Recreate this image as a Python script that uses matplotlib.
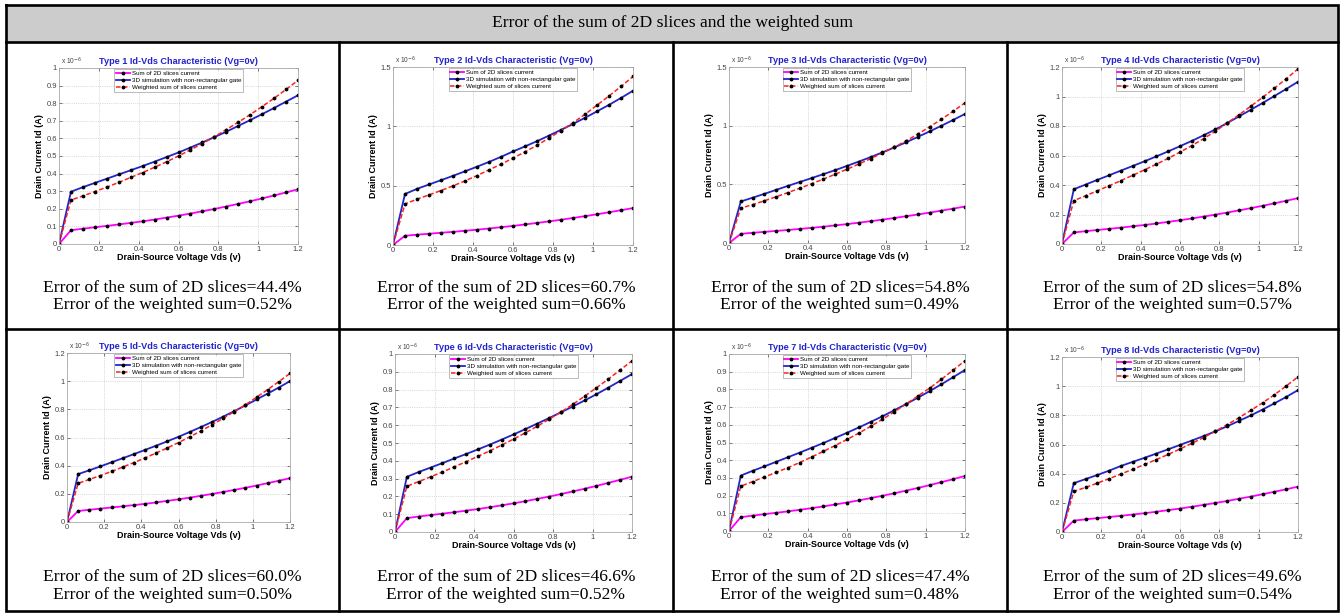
# Id-Vds characteristics of 8 gate types, arranged as a 2x4 table

import matplotlib.pyplot as plt

plt.rcParams['font.family'] = ['Liberation Sans', 'DejaVu Sans']

W, H = 1344, 613

# drain-source voltage (V)
vds = [0.0, 0.06, 0.12, 0.18, 0.24, 0.30, 0.36, 0.42, 0.48, 0.54, 0.60,
       0.66, 0.72, 0.78, 0.84, 0.90, 0.96, 1.02, 1.08, 1.14, 1.20]

# drain currents, in units of 1e-6 A
sum_2d = [0, 0.078, 0.087, 0.095, 0.103, 0.111, 0.120, 0.129, 0.139, 0.150, 0.161,
          0.173, 0.186, 0.199, 0.213, 0.228, 0.243, 0.259, 0.276, 0.293, 0.311]

sim_3d = [
    [0, 0.297, 0.323, 0.347, 0.371, 0.395, 0.419, 0.443, 0.468, 0.494, 0.520,
     0.548, 0.577, 0.607, 0.638, 0.671, 0.704, 0.738, 0.773, 0.809, 0.845],
    [0, 0.430, 0.473, 0.510, 0.546, 0.583, 0.621, 0.660, 0.700, 0.743, 0.788,
     0.831, 0.875, 0.922, 0.970, 1.020, 1.072, 1.126, 1.181, 1.239, 1.300],
    [0, 0.354, 0.386, 0.419, 0.453, 0.487, 0.520, 0.553, 0.587, 0.621, 0.657,
     0.694, 0.732, 0.772, 0.814, 0.858, 0.904, 0.951, 0.999, 1.049, 1.100],
    [0, 0.371, 0.403, 0.435, 0.466, 0.498, 0.529, 0.561, 0.594, 0.628, 0.663,
     0.699, 0.737, 0.777, 0.820, 0.865, 0.910, 0.956, 1.003, 1.051, 1.100],
    [0, 0.340, 0.367, 0.395, 0.424, 0.453, 0.482, 0.512, 0.542, 0.573, 0.605,
     0.639, 0.674, 0.710, 0.748, 0.787, 0.828, 0.870, 0.912, 0.955, 1.000],
    [0, 0.310, 0.337, 0.362, 0.387, 0.413, 0.438, 0.464, 0.491, 0.519, 0.548,
     0.578, 0.609, 0.640, 0.672, 0.705, 0.739, 0.774, 0.811, 0.849, 0.887],
    [0, 0.313, 0.340, 0.365, 0.391, 0.417, 0.443, 0.470, 0.497, 0.526, 0.555,
     0.585, 0.616, 0.648, 0.682, 0.717, 0.753, 0.790, 0.829, 0.869, 0.910],
    [0, 0.335, 0.363, 0.391, 0.421, 0.453, 0.481, 0.509, 0.538, 0.567, 0.597,
     0.627, 0.658, 0.690, 0.725, 0.762, 0.799, 0.840, 0.882, 0.926, 0.973],
]

weighted = [
    [0, 0.250, 0.273, 0.298, 0.323, 0.350, 0.378, 0.406, 0.436, 0.467, 0.500,
     0.535, 0.571, 0.610, 0.650, 0.692, 0.735, 0.781, 0.828, 0.878, 0.930],
    [0, 0.346, 0.386, 0.422, 0.459, 0.498, 0.540, 0.585, 0.633, 0.681, 0.732,
     0.785, 0.840, 0.901, 0.964, 1.030, 1.101, 1.178, 1.256, 1.336, 1.420],
    [0, 0.297, 0.327, 0.360, 0.394, 0.430, 0.467, 0.505, 0.545, 0.586, 0.629,
     0.673, 0.719, 0.767, 0.817, 0.870, 0.928, 0.990, 1.054, 1.123, 1.195],
    [0, 0.294, 0.327, 0.361, 0.395, 0.430, 0.466, 0.503, 0.541, 0.581, 0.623,
     0.667, 0.714, 0.765, 0.820, 0.876, 0.934, 0.994, 1.056, 1.120, 1.187],
    [0, 0.275, 0.302, 0.330, 0.359, 0.390, 0.422, 0.455, 0.490, 0.526, 0.564,
     0.604, 0.646, 0.690, 0.736, 0.783, 0.832, 0.886, 0.940, 0.997, 1.055],
    [0, 0.257, 0.283, 0.310, 0.337, 0.366, 0.395, 0.425, 0.456, 0.488, 0.522,
     0.557, 0.594, 0.633, 0.674, 0.717, 0.763, 0.810, 0.859, 0.910, 0.962],
    [0, 0.253, 0.279, 0.305, 0.331, 0.358, 0.387, 0.418, 0.450, 0.483, 0.517,
     0.553, 0.591, 0.631, 0.673, 0.717, 0.762, 0.807, 0.857, 0.909, 0.962],
    [0, 0.278, 0.306, 0.335, 0.366, 0.398, 0.430, 0.463, 0.497, 0.532, 0.569,
     0.608, 0.648, 0.691, 0.736, 0.784, 0.834, 0.886, 0.941, 1.001, 1.064],
]

y_max = [1.0, 1.5, 1.5, 1.2, 1.2, 1.0, 1.0, 1.2]
y_step = [0.1, 0.5, 0.5, 0.2, 0.2, 0.1, 0.1, 0.2]
err_sum = ['44.4%', '60.7%', '54.8%', '54.8%', '60.0%', '46.6%', '47.4%', '49.6%']
err_weighted = ['0.52%', '0.66%', '0.49%', '0.57%', '0.50%', '0.52%', '0.48%', '0.54%']
legend_labels = ['Sum of 2D slices current',
                 '3D simulation with non-rectangular gate',
                 'Weighted sum of slices current']

# axes boxes in pixels: left, top, right, bottom
boxes = [(59, 68, 298, 244), (393, 67, 633, 245), (729, 67, 965, 243), (1062, 67, 1298, 244),
         (67, 353, 290, 522), (395, 354, 632, 532), (729, 354, 965, 531), (1062, 357, 1298, 532)]

col_edges = [6, 339, 673, 1007, 1338]
row_top = [42, 329]
row_bottom = 611
text_y = [(288, 305), (577, 595)]

fig = plt.figure(figsize=(W / 100, H / 100), dpi=100)

# table frame drawn in pixel coordinates
bg = fig.add_axes([0, 0, 1, 1])
bg.set_xlim(0, W)
bg.set_ylim(H, 0)
bg.axis('off')
bg.fill_between([6, 1338], 5, 42, color='#cccccc', lw=0)
lw = 1.9
bg.plot([6, 1338, 1338, 6, 6], [5, 5, row_bottom, row_bottom, 5], color='black', lw=lw,
        solid_joinstyle='miter')
for y in row_top:
    bg.plot([6, 1338], [y, y], color='black', lw=lw)
for x in col_edges[1:-1]:
    bg.plot([x, x], [42, row_bottom], color='black', lw=lw)
bg.text(672, 23, 'Error of the sum of 2D slices and the weighted sum', ha='center', va='center',
        fontsize=12.6, family='Liberation Serif')

for i in range(8):
    r, c = divmod(i, 4)
    cx = (col_edges[c] + col_edges[c + 1]) / 2
    bg.text(cx, text_y[r][0], 'Error of the sum of 2D slices=' + err_sum[i], ha='center',
            va='center', fontsize=12.6, family='Liberation Serif')
    bg.text(cx, text_y[r][1], 'Error of the weighted sum=' + err_weighted[i], ha='center',
            va='center', fontsize=12.6, family='Liberation Serif')

    l, t, rr, b = boxes[i]
    ax = fig.add_axes([l / W, 1 - b / H, (rr - l) / W, (b - t) / H])
    ax.plot(vds, sum_2d, color='#ff00ff', lw=1.3, marker='.', ms=3.5, mfc='black', mec='black',
            label=legend_labels[0])
    ax.plot(vds, sim_3d[i], color='#2424c8', lw=1.3, marker='.', ms=3.5, mfc='black', mec='black',
            label=legend_labels[1])
    ax.plot(vds, weighted[i], color='#ff2020', lw=1.1, ls='--', dashes=(3, 1.5), marker='.', ms=3.5,
            mfc='black', mec='black', label=legend_labels[2])

    ax.set_xlim(0, 1.2)
    ax.set_ylim(0, y_max[i])
    ax.set_xticks([0, 0.2, 0.4, 0.6, 0.8, 1.0, 1.2])
    ax.set_xticklabels(['0', '0.2', '0.4', '0.6', '0.8', '1', '1.2'])
    n = int(round(y_max[i] / y_step[i]))
    yt = [k * y_step[i] for k in range(n + 1)]
    ax.set_yticks(yt)
    ax.set_yticklabels(['%g' % round(v, 2) for v in yt])
    ax.tick_params(direction='in', length=2.5, width=0.5, labelsize=5.5, colors='#444444',
                   pad=1.5, top=True, right=True)
    ax.grid(True, ls=':', lw=0.5, color='#bbbbbb')
    for s in ax.spines.values():
        s.set_color('#aaaaaa')
        s.set_linewidth(0.6)

    ax.set_title('Type %d Id-Vds Characteristic (Vg=0v)' % (i + 1), fontsize=6.6,
                 fontweight='bold', color='#2222cc', pad=3)
    ax.set_xlabel('Drain-Source Voltage Vds (v)', fontsize=6.5, fontweight='bold', labelpad=0)
    ax.set_ylabel('Drain Current Id (A)', fontsize=6.5, fontweight='bold', labelpad=2)
    ax.text(0.01, 1.005, 'x 10$^{-6}$', transform=ax.transAxes, fontsize=4.8, color='#444444',
            ha='left', va='bottom')

    leg = ax.legend(loc='upper center', fontsize=4.5, frameon=True, fancybox=False,
                    borderaxespad=0.15, handlelength=2.2, handletextpad=0.3,
                    labelspacing=0.25, borderpad=0.3)
    leg.get_frame().set_edgecolor('#888888')
    leg.get_frame().set_linewidth(0.5)

fig.savefig('out.png', dpi=100)
